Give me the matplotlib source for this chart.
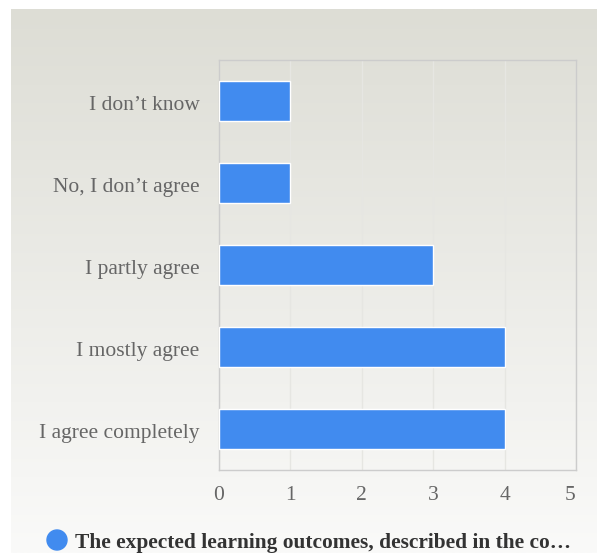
import matplotlib
matplotlib.use("Agg")
import matplotlib.pyplot as plt
import matplotlib.transforms as mtrans
import numpy as np
from matplotlib.patches import Circle

categories = ["I don’t know", "No, I don’t agree", "I partly agree", "I mostly agree", "I agree completely"]
values = [1, 1, 3, 4, 4]
xticks = [0, 1, 2, 3, 4, 5]
legend_label = "The expected learning outcomes, described in the co…"

W, H = 597, 553
fig = plt.figure(figsize=(W / 100, H / 100), dpi=100)
fig.patch.set_facecolor("white")

# gradient panel
bg = fig.add_axes([11 / W, 0, 1 - 11 / W, 1 - 9 / H])
bg.set_axis_off()
top = np.array([0xDD, 0xDD, 0xD5]) / 255
bot = np.array([0xFA, 0xFA, 0xF9]) / 255
t = np.linspace(0, 1, 256)[:, None]
grad = top[None, :] * (1 - t) + bot[None, :] * t
bg.imshow(grad[:, None, :], aspect="auto", extent=[0, 1, 0, 1], origin="upper")
bg.set_xlim(0, 1)
bg.set_ylim(0, 1)

serif = ["Liberation Serif", "DejaVu Serif"]

x0, x1, y0, y1 = 219, 576, 60, 470
ax = fig.add_axes([x0 / W, 1 - y1 / H, (x1 - x0) / W, (y1 - y0) / H])
ax.patch.set_alpha(0)
y = np.arange(len(categories))
ax.barh(y, values, height=0.49, color="#418BEF", edgecolor="white", linewidth=1, zorder=3)
ax.set_ylim(len(categories) - 0.5, -0.5)
ax.set_xlim(0, 5)
ax.set_xticks(xticks)
ax.set_xticklabels([str(v) for v in xticks], fontfamily=serif, fontsize=15.5, color="#666666")
ax.set_yticks(y)
ax.set_yticklabels(categories, fontfamily=serif, fontsize=15.5, color="#666666")
ax.tick_params(axis="both", length=0)
ax.tick_params(axis="x", pad=11.5)
ax.tick_params(axis="y", pad=14)
off = mtrans.ScaledTranslation(0, -2 / 100, fig.dpi_scale_trans)
for lbl in ax.get_yticklabels():
    lbl.set_transform(lbl.get_transform() + off)
last = ax.get_xticklabels()[-1]
last.set_transform(last.get_transform() + mtrans.ScaledTranslation(-6 / 100, 0, fig.dpi_scale_trans))
ax.grid(axis="x", color="#E6E6E2", linewidth=1, zorder=0)
for s in ax.spines.values():
    s.set_color("#CCCCCC")
    s.set_linewidth(1)

# legend
leg = fig.add_axes([0, 0, 1, 1])
leg.set_axis_off()
leg.set_xlim(0, W)
leg.set_ylim(H, 0)
leg.add_patch(Circle((57, 540), 10, color="#418BEF"))
leg.text(75, 543, legend_label, fontfamily=serif, fontsize=15.4, fontweight="bold",
         color="#333333", va="center", ha="left")

fig.savefig("out.png", dpi=100)
